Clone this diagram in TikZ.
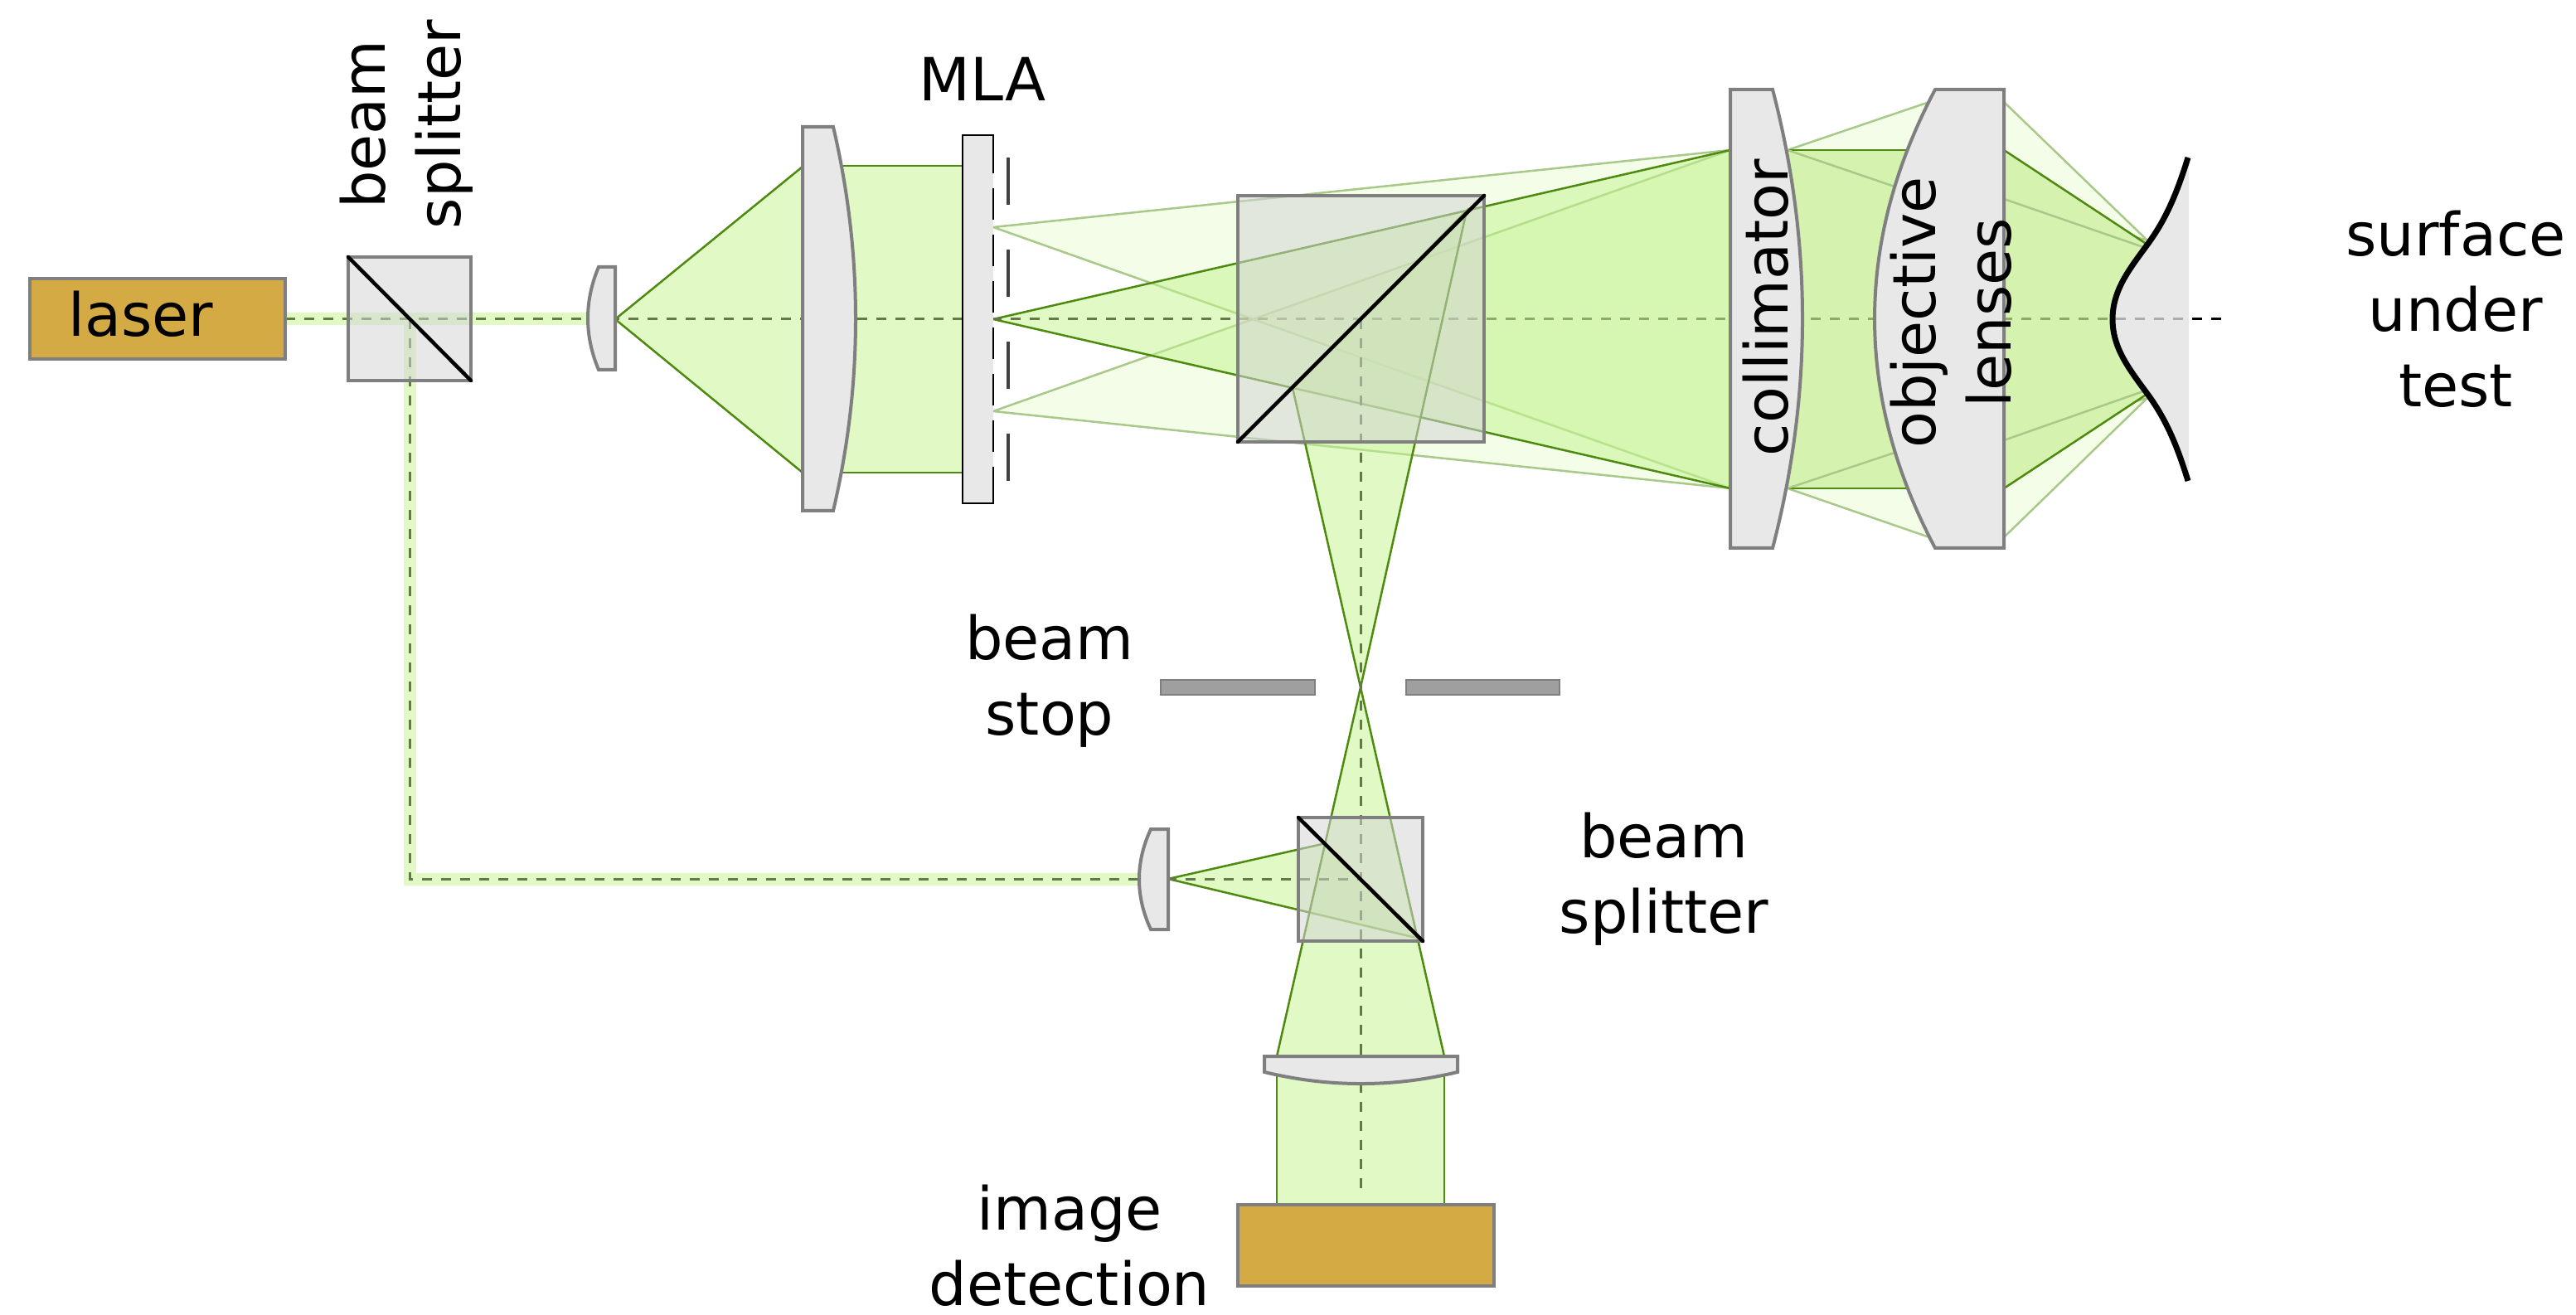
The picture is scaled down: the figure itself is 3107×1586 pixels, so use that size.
\documentclass[tikz,border=0pt]{standalone}
\usepackage{fontspec}
\setmainfont{DejaVu Sans}
\definecolor{beamgreen}{HTML}{C2F38C}
\definecolor{beamfull}{HTML}{D5F3AF}
\definecolor{beamedge}{HTML}{4E8A0F}
\definecolor{paleedge}{HTML}{A9C98A}
\definecolor{axisgreen}{HTML}{617A46}
\definecolor{axislight}{HTML}{8FA96B}
\definecolor{edgegray}{HTML}{7F7F7F}
\definecolor{lensgray}{HTML}{E8E8E8}
\definecolor{cubegray}{HTML}{D4D4D4}
\definecolor{boxgold}{HTML}{D4AA44}
\tikzset{
  mainbeam/.style={draw=beamedge,line width=0.025cm,fill=beamgreen,fill opacity=0.5},
  palebeam/.style={draw=paleedge,line width=0.025cm,fill=beamgreen,fill opacity=0.2},
  solidbeam/.style={draw=none,fill=beamfull},
  refband/.style={draw=beamgreen,line width=0.15cm,draw opacity=0.5},
  axisline/.style={line width=0.03cm,dash pattern=on 0.12cm off 0.11cm},
  lensbody/.style={draw=edgegray,line width=0.04cm,fill=lensgray},
  cubebody/.style={draw=edgegray,line width=0.04cm,fill=cubegray,fill opacity=0.53},
  mirror/.style={line width=0.045cm,line cap=round},
  sourcebox/.style={draw=edgegray,line width=0.045cm,fill=boxgold},
  stopbar/.style={draw=edgegray,line width=0.025cm,fill=gray!75},
  label/.style={align=center,inner sep=0pt,font=\fontsize{20.4}{25.9}\selectfont}
}
\begin{document}
\begin{tikzpicture}[x=0.01cm,y=-0.01cm]
\useasboundingbox (0,0) rectangle (3107,1586);
% reference arm
\draw [refband] (344,385) -- (709,385) (494,385) -- (494,1060) -- (1374,1060);
\draw [mainbeam] (1409,1060) -- (1597,1017.5) -- (1712,1132) -- cycle;
% illumination
\draw [mainbeam] (742,385) -- (968,201) -- (968,570) -- cycle;
\draw [mainbeam,draw=none] (1000,200) rectangle (1161,570);
\draw [beamedge,line width=0.025cm] (1000,200) -- (1161,200) (1000,570) -- (1161,570);
% object arm
\draw [palebeam] (1198,274) -- (2087,181) -- (2087,589) -- cycle;
\draw [palebeam] (1198,496) -- (2087,181) -- (2087,589) -- cycle;
\draw [mainbeam] (1198,385) -- (2087,181) -- (2087,589) -- cycle;
\fill [beamfull] (2087,181) rectangle (2140,589);
\draw [palebeam] (2156,181) -- (2327,123) -- (2285,225) -- cycle;
\draw [palebeam] (2156,589) -- (2327,648) -- (2285,546) -- cycle;
\fill [beamfull] (2140,181) rectangle (2320,589);
\draw [beamedge,line width=0.025cm] (2140,181) -- (2320,181) (2140,589) -- (2320,589);
\draw [paleedge,line width=0.025cm] (2156,181) -- (2285,225) (2156,589) -- (2285,546);
\draw [palebeam] (2417,123) -- (2590,290) -- (2417,240) -- cycle;
\draw [palebeam] (2417,648) -- (2590,480) -- (2417,531) -- cycle;
\fill [solidbeam] (2417,181) -- (2590,295) .. controls (2568,325) and (2548,350) .. (2548,385)
  .. controls (2548,420) and (2568,445) .. (2590,475) -- (2417,589) -- cycle;
\draw [beamedge,line width=0.025cm] (2417,181) -- (2590,295) (2417,589) -- (2590,475);
\draw [paleedge,line width=0.025cm] (2417,240) -- (2585,298) (2417,531) -- (2585,472);
% detection arm
\draw [mainbeam] (1559,468) -- (1769,254) -- (1641,829) -- cycle;
\draw [mainbeam] (1641,829) -- (1540,1274) -- (1742,1274) -- cycle;
\draw [mainbeam] (1540,1274) -- (1540,1453) -- (1742,1453) -- (1742,1274);
% axes
\draw [axisline,axisgreen] (344,385) -- (1494,385);
\draw [axisline,axislight] (1494,385) -- (2552,385);
\draw [axisline,gray] (2552,385) -- (2644,385);
\draw [axisline,black] (2644,385) -- (2690,385);
\draw [axisline,axisgreen] (494,385) -- (494,1060) -- (1641,1060);
\draw [axisline,axisgreen] (1641,385) -- (1641,1440);
% lenses
\draw [lensbody] (742,322) -- (722,322) .. controls (704.7,363) and (704.7,405) .. (722,446) -- (742,446) -- cycle;
\draw [lensbody] (968,153) -- (1005,153) .. controls (1041,307) and (1041,462) .. (1005,616) -- (968,616) -- cycle;
\draw [lensbody] (2087,108) -- (2138,108) .. controls (2186,292) and (2186,477) .. (2138,661) -- (2087,661) -- cycle;
\draw [lensbody] (2417,108) -- (2334,108) .. controls (2236.7,292) and (2236.7,477) .. (2334,661) -- (2417,661) -- cycle;
\draw [lensbody] (1409,1000) -- (1388,1000) .. controls (1369.3,1040) and (1369.3,1081) .. (1388,1121) -- (1409,1121) -- cycle;
\draw [lensbody] (1525,1274) -- (1758,1274) -- (1758,1293) .. controls (1680,1311.7) and (1603,1311.7) .. (1525,1293) -- cycle;
% MLA
\fill [lensgray] (1161,163) rectangle (1198,607);
\draw [black,line width=0.025cm] (1198,171) -- (1198,163) -- (1161,163) -- (1161,607) -- (1198,607) -- (1198,599);
\draw [black,line width=0.025cm,dash pattern=on 0.38cm off 0.18cm] (1198,171) -- (1198,599);
\draw [black!75,line width=0.04cm,dash pattern=on 0.57cm off 0.54cm] (1216,190) -- (1216,580);
% surface
\fill [cubegray,fill opacity=0.53] (2640,190) .. controls (2640,190) and (2639,190) .. (2639,190)
  .. controls (2625,235) and (2612,265) .. (2590,295) .. controls (2568,325) and (2548,350) .. (2548,385)
  .. controls (2548,420) and (2568,445) .. (2590,475) .. controls (2612,505) and (2625,535) .. (2639,580) -- (2640,580) -- cycle;
\draw [black,line width=0.07cm] (2639,190) .. controls (2625,235) and (2612,265) .. (2590,295)
  .. controls (2568,325) and (2548,350) .. (2548,385) .. controls (2548,420) and (2568,445) .. (2590,475)
  .. controls (2612,505) and (2625,535) .. (2639,580);
% cubes
\draw [cubebody] (420,310) rectangle (568,459);
\draw [mirror] (420,310) -- (568,459);
\draw [cubebody] (1493,236) rectangle (1790,533);
\draw [mirror] (1493,533) -- (1790,236);
\draw [cubebody] (1566,986) rectangle (1716,1135);
\draw [mirror] (1566,986) -- (1716,1135);
% stops and boxes
\draw [stopbar] (1400,820) rectangle (1586,838);
\draw [stopbar] (1696,820) rectangle (1881,838);
\draw [sourcebox] (36,336) rectangle (344,433);
\draw [sourcebox] (1493,1453) rectangle (1802,1551);
% labels
\node [label] (laser) at (170,379) {laser};
\node [label,rotate=90] (bs1) at (490,150) {beam\\splitter};
\node [label] (mla) at (1185,95) {MLA};
\node [label,rotate=90] (coll) at (2130,371) {collimator};
\node [label,rotate=90] (obj) at (2353,377) {objective\\lenses};
\node [label] (sut) at (2962,373) {surface\\under\\test};
\node [label] (stop) at (1266,821) {beam\\stop};
\node [label] (bs2) at (2007,1060) {beam\\splitter};
\node [label] (det) at (1290,1502) {image\\detection};
\end{tikzpicture}
\end{document}
